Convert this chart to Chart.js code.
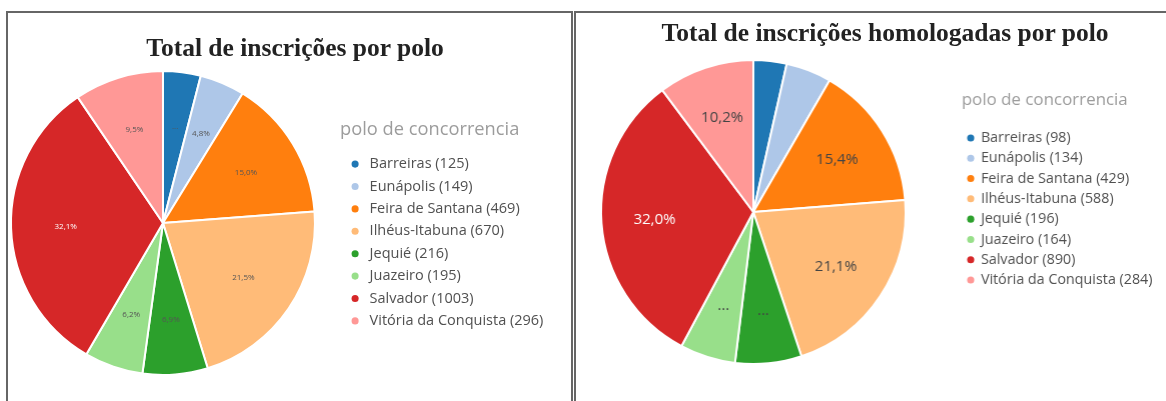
<!DOCTYPE html>
<html>
<head>
<meta charset="utf-8">
<script src="https://cdn.jsdelivr.net/npm/chart.js@4.4.1/dist/chart.umd.min.js"></script>
<style>
  html, body { margin: 0; padding: 0; background: #fff; }
  body { position: relative; width: 1166px; height: 401px; overflow: hidden; }
  .panel { position: absolute; top: 11px; height: 420px; border: 2px solid #666; border-bottom: none; box-sizing: border-box; }
  #panel1 { left: 6px; width: 567px; }
  #panel2 { left: 574px; width: 640px; }
  .title { position: absolute; font-family: "Liberation Serif", serif; font-weight: bold; font-size: 25.5px;
           line-height: 26px; color: #222; white-space: nowrap; transform: translateX(-50%); }
  #title1 { left: 295px; top: 35px; }
  #title2 { left: 885px; top: 20px; }
  .box { position: absolute; top: 0; height: 401px; }
</style>
</head>
<body>
<div class="panel" id="panel1"></div>
<div class="panel" id="panel2"></div>
<div class="box" id="box1"><canvas id="chart1"></canvas></div>
<div class="box" id="box2"><canvas id="chart2"></canvas></div>
<div class="title" id="title1">Total de inscrições por polo</div>
<div class="title" id="title2">Total de inscrições homologadas por polo</div>

<script>
const categories = ["Barreiras", "Eunápolis", "Feira de Santana", "Ilhéus-Itabuna", "Jequié", "Juazeiro", "Salvador", "Vitória da Conquista"];
const totalInscricoes = [125, 149, 469, 670, 216, 195, 1003, 296];
const totalHomologadas = [98, 134, 429, 588, 196, 164, 890, 284];
const sliceColors = ["#1f77b4", "#aec7e8", "#ff7f0e", "#ffbb78", "#2ca02c", "#98df8a", "#d62728", "#ff9896"];
// what each slice shows inside: percentage, a truncated "..." or nothing
const totalLabelModes = ["dots", "pct", "pct", "pct", "pct", "pct", "pct", "pct"];
const homologLabelModes = ["none", "none", "pct", "pct", "dots", "dots", "pct", "pct"];
const legendTitle = "polo de concorrencia";

// percentage labels inside the slices
const sliceLabels = {
  id: "sliceLabels",
  afterDatasetsDraw(chart, args, opts) {
    const ctx = chart.ctx;
    const values = chart.data.datasets[0].data;
    const total = values.reduce((a, b) => a + b, 0);
    chart.getDatasetMeta(0).data.forEach((arc, i) => {
      const mode = opts.modes[i];
      if (mode === "none") return;
      const p = arc.getProps(["x", "y", "startAngle", "endAngle", "outerRadius"], true);
      const mid = (p.startAngle + p.endAngle) / 2;
      const r = p.outerRadius * opts.radiusFactor;
      const text = mode === "dots" ? "..." : (values[i] / total * 100).toFixed(1).replace(".", ",") + "%";
      ctx.save();
      ctx.font = opts.font;
      ctx.fillStyle = i === 6 ? "#fff" : opts.color;
      ctx.textAlign = "center";
      ctx.textBaseline = "middle";
      ctx.fillText(text, p.x + Math.cos(mid) * r, p.y + Math.sin(mid) * r);
      ctx.restore();
    });
  }
};

function makeChart(boxId, values, modes, g) {
  const box = document.getElementById(boxId);
  const areaLeft = 2 * g.cx - g.legendLeft;
  box.style.left = areaLeft + "px";
  box.style.width = "700px";

  const chart = new Chart(box.querySelector("canvas"), {
    type: "pie",
    data: {
      labels: categories.map((c, i) => `${c} (${values[i]})`),
      datasets: [{ data: values, backgroundColor: sliceColors, borderColor: "#fff", borderWidth: 2 }]
    },
    options: {
      responsive: true,
      maintainAspectRatio: false,
      animation: false,
      events: [],
      layout: { padding: { top: g.padTop, bottom: g.padBottom, left: 0, right: 0 } },
      plugins: {
        tooltip: { enabled: false },
        legend: {
          position: "right",
          align: "start",
          title: {
            display: true,
            position: "start",
            text: legendTitle,
            color: "#9c9c9c",
            font: { family: "Open Sans", size: g.titleSize, lineHeight: 1.2 },
            padding: { top: g.titlePadTop, bottom: g.titlePadBottom }
          },
          labels: {
            usePointStyle: true,
            pointStyle: "circle",
            boxWidth: g.boxWidth,
            boxHeight: 5,
            padding: g.itemPad,
            color: "#555",
            font: { family: "Open Sans", size: g.itemSize },
            generateLabels: (ch) => ch.data.labels.map((t, i) => ({
              text: t, fillStyle: sliceColors[i], strokeStyle: sliceColors[i], lineWidth: 0,
              pointStyle: "circle", hidden: false, index: i, fontColor: "#505050"
            }))
          }
        },
        sliceLabels: { modes: modes, font: g.labelFont, color: g.labelColor, radiusFactor: g.radiusFactor }
      }
    },
    plugins: [sliceLabels]
  });

  // size the box so that the legend begins at legendLeft and the pie sits at cx
  box.style.width = (g.legendLeft - areaLeft + chart.legend.width) + "px";
  chart.resize();
  return chart;
}

makeChart("box1", totalInscricoes, totalLabelModes, {
  cx: 163, legendLeft: 340, padTop: 70, padBottom: 25,
  titleSize: 18.3, titlePadTop: 51, titlePadBottom: 6,
  itemSize: 14.5, itemPad: 7.9, boxWidth: 14.5,
  labelFont: "8px 'Open Sans'", labelColor: "#555", radiusFactor: 0.64
});

makeChart("box2", totalHomologadas, homologLabelModes, {
  cx: 753, legendLeft: 961, padTop: 59, padBottom: 36,
  titleSize: 16.9, titlePadTop: 32.5, titlePadBottom: 13,
  itemSize: 14.3, itemPad: 6, boxWidth: 6,
  labelFont: "15px 'Open Sans'", labelColor: "#444", radiusFactor: 0.65
});
</script>
</body>
</html>
